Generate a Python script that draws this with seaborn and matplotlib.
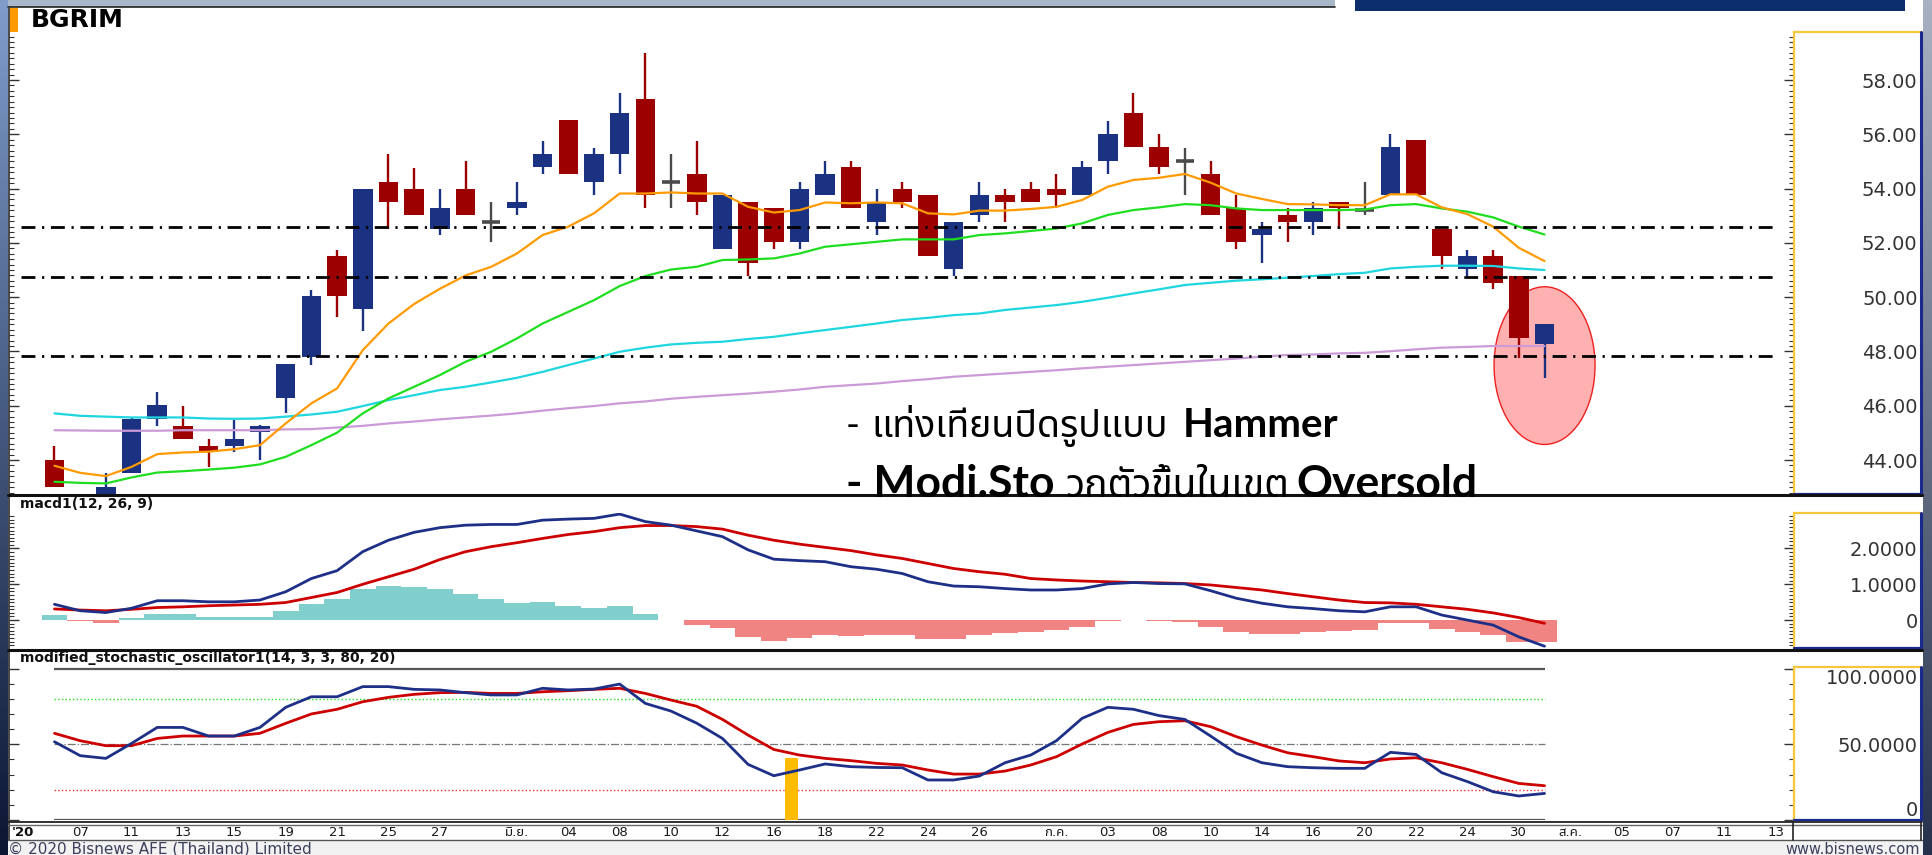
import numpy as np
import matplotlib
matplotlib.use('Agg')
import matplotlib.pyplot as plt
import seaborn as sns
from matplotlib.patches import Rectangle, Ellipse
from matplotlib.lines import Line2D
from matplotlib.ticker import MultipleLocator
from matplotlib.colors import LinearSegmentedColormap
from matplotlib import font_manager
from matplotlib.ft2font import FT2Font

sns.set_style('white')

# ---------------- data (BGRIM daily, 6 May - 31 Jul 2020) ----------------
opens = [44.00, 42.60, 42.50, 43.51, 45.53, 45.27, 44.53, 44.53, 45.02, 46.27,
         47.81, 51.52, 49.55, 54.25, 54.00, 52.53, 54.00, 52.76, 53.27, 54.78,
         56.53, 54.25, 55.27, 57.30, 54.23, 54.54, 51.76, 53.52, 53.27, 52.04,
         53.76, 54.78, 52.78, 54.00, 53.76, 51.03, 53.03, 53.76, 54.00, 54.00,
         53.76, 55.03, 56.77, 55.54, 55.02, 54.54, 53.27, 52.29, 53.03, 52.78,
         53.52, 53.23, 53.76, 55.79, 52.53, 51.03, 51.52, 50.78, 48.26]
highs = [44.51, 42.75, 43.51, 45.55, 46.49, 46.00, 44.76, 45.47, 45.30, 47.55,
         50.26, 51.74, 54.00, 55.26, 54.77, 54.00, 55.02, 53.49, 54.23, 55.75,
         56.53, 55.51, 57.51, 59.01, 55.26, 55.75, 53.76, 53.52, 53.27, 54.23,
         55.02, 55.02, 54.00, 54.23, 53.76, 52.78, 54.23, 54.00, 54.23, 54.54,
         55.02, 56.50, 57.51, 56.00, 55.51, 55.02, 53.76, 52.78, 53.27, 53.52,
         53.52, 54.23, 56.00, 55.79, 52.53, 51.74, 51.74, 50.78, 49.03]
lows = [43.02, 42.00, 42.30, 43.51, 45.27, 44.77, 43.75, 44.28, 44.00, 45.75,
        47.52, 49.28, 48.76, 52.53, 53.03, 52.29, 53.03, 52.04, 53.03, 54.54,
        54.54, 53.76, 54.54, 53.27, 53.27, 53.03, 51.76, 50.78, 51.76, 51.76,
        53.76, 53.27, 52.29, 53.27, 51.52, 50.78, 52.78, 52.78, 53.52, 53.27,
        53.76, 54.54, 55.54, 54.54, 53.76, 53.03, 51.76, 51.27, 52.04, 52.29,
        52.53, 53.03, 53.76, 53.76, 51.03, 50.78, 50.29, 47.77, 47.03]
closes = [43.02, 42.20, 43.02, 45.53, 46.03, 44.77, 44.28, 44.77, 45.27, 47.54,
          50.04, 50.04, 54.00, 53.52, 53.03, 53.27, 53.03, 52.76, 53.52, 55.27,
          54.54, 55.27, 56.77, 53.76, 54.23, 53.52, 53.76, 51.27, 52.04, 54.00,
          54.54, 53.27, 53.52, 53.52, 51.52, 52.78, 53.76, 53.52, 53.52, 53.76,
          54.78, 56.03, 55.54, 54.78, 55.02, 53.03, 52.04, 52.53, 52.78, 53.27,
          53.27, 53.23, 55.54, 53.76, 51.52, 51.52, 50.53, 48.51, 49.03]

ma_fast = [43.79, 43.53, 43.41, 43.75, 44.22, 44.28, 44.31, 44.40, 44.55, 45.35,
           46.09, 46.64, 48.05, 49.03, 49.75, 50.31, 50.80, 51.12, 51.61, 52.29,
           52.60, 53.09, 53.82, 53.82, 53.86, 53.82, 53.82, 53.33, 53.12, 53.21,
           53.49, 53.46, 53.49, 53.46, 53.09, 53.05, 53.19, 53.19, 53.25, 53.33,
           53.58, 54.07, 54.32, 54.40, 54.54, 54.22, 53.82, 53.62, 53.43, 53.42,
           53.39, 53.39, 53.79, 53.79, 53.31, 53.06, 52.60, 51.82, 51.33]
ma_mid = [43.20, 43.16, 43.14, 43.36, 43.54, 43.59, 43.65, 43.72, 43.84, 44.12,
          44.55, 45.01, 45.72, 46.27, 46.70, 47.13, 47.62, 47.99, 48.48, 49.03,
          49.46, 49.89, 50.41, 50.78, 51.02, 51.12, 51.37, 51.39, 51.43, 51.61,
          51.86, 51.95, 52.04, 52.13, 52.13, 52.13, 52.29, 52.35, 52.44, 52.53,
          52.72, 53.03, 53.21, 53.31, 53.43, 53.39, 53.27, 53.21, 53.21, 53.21,
          53.21, 53.23, 53.39, 53.43, 53.27, 53.15, 52.94, 52.60, 52.31]
ma_slow = [45.72, 45.63, 45.60, 45.57, 45.57, 45.57, 45.53, 45.52, 45.53, 45.60,
           45.68, 45.78, 45.99, 46.21, 46.39, 46.58, 46.70, 46.86, 47.03, 47.25,
           47.50, 47.74, 47.99, 48.14, 48.26, 48.32, 48.36, 48.46, 48.54, 48.67,
           48.79, 48.91, 49.03, 49.16, 49.24, 49.34, 49.40, 49.53, 49.62, 49.71,
           49.83, 49.98, 50.14, 50.29, 50.45, 50.53, 50.61, 50.66, 50.72, 50.78,
           50.85, 50.90, 51.06, 51.12, 51.16, 51.16, 51.15, 51.06, 51.00]
ma_long = [45.10, 45.09, 45.08, 45.08, 45.08, 45.10, 45.10, 45.10, 45.10, 45.13,
           45.14, 45.20, 45.26, 45.35, 45.42, 45.50, 45.57, 45.64, 45.72, 45.82,
           45.91, 45.99, 46.09, 46.16, 46.26, 46.33, 46.39, 46.45, 46.52, 46.60,
           46.70, 46.76, 46.82, 46.91, 46.98, 47.07, 47.13, 47.19, 47.25, 47.31,
           47.38, 47.44, 47.50, 47.56, 47.62, 47.68, 47.74, 47.81, 47.87, 47.89,
           47.93, 47.95, 48.01, 48.08, 48.14, 48.17, 48.20, 48.20, 48.20]

support_levels = [52.58, 50.74, 47.83]
hammer_mark = 47.48   # centre of the highlight ellipse

macd_line = [0.44, 0.26, 0.21, 0.33, 0.54, 0.54, 0.51, 0.51, 0.56, 0.79,
             1.16, 1.38, 1.91, 2.23, 2.45, 2.58, 2.65, 2.67, 2.67, 2.79,
             2.82, 2.84, 2.96, 2.75, 2.65, 2.49, 2.33, 1.96, 1.70, 1.66,
             1.63, 1.49, 1.42, 1.30, 1.07, 0.95, 0.93, 0.88, 0.84, 0.84,
             0.88, 1.01, 1.05, 1.02, 1.01, 0.82, 0.61, 0.47, 0.37, 0.32,
             0.26, 0.23, 0.37, 0.37, 0.14, 0.00, -0.14, -0.47, -0.73]
macd_signal = [0.31, 0.28, 0.26, 0.30, 0.35, 0.37, 0.40, 0.42, 0.44, 0.49,
               0.63, 0.77, 1.00, 1.21, 1.42, 1.69, 1.91, 2.05, 2.16, 2.28,
               2.39, 2.47, 2.58, 2.64, 2.64, 2.61, 2.54, 2.37, 2.23, 2.12,
               2.03, 1.94, 1.82, 1.72, 1.58, 1.44, 1.35, 1.28, 1.16, 1.12,
               1.09, 1.07, 1.05, 1.04, 1.02, 0.98, 0.91, 0.84, 0.74, 0.65,
               0.56, 0.49, 0.48, 0.44, 0.37, 0.30, 0.20, 0.07, -0.09]
macd_hist = [0.14, -0.02, -0.07, 0.06, 0.17, 0.17, 0.08, 0.08, 0.08, 0.25,
             0.46, 0.60, 0.87, 0.96, 0.93, 0.87, 0.73, 0.59, 0.48, 0.51,
             0.40, 0.35, 0.38, 0.16, 0.00, -0.15, -0.21, -0.47, -0.58, -0.49,
             -0.42, -0.44, -0.42, -0.42, -0.52, -0.52, -0.42, -0.37, -0.34, -0.28,
             -0.19, -0.03, 0.00, -0.02, -0.05, -0.19, -0.34, -0.39, -0.39, -0.34,
             -0.30, -0.28, -0.09, -0.09, -0.25, -0.33, -0.42, -0.62, -0.62]

sto_k = [51.7, 42.5, 40.7, 50.6, 61.2, 61.2, 55.5, 55.5, 61.2, 74.5,
         81.5, 81.5, 88.2, 88.2, 86.4, 86.0, 84.2, 82.7, 82.7, 87.1,
         86.0, 86.6, 89.9, 77.1, 72.0, 64.0, 53.9, 36.7, 29.2, 33.0,
         37.0, 35.2, 34.7, 34.5, 26.4, 26.4, 29.0, 37.8, 42.9, 52.4,
         67.2, 74.5, 73.2, 69.0, 66.5, 55.5, 44.1, 37.8, 35.2, 34.5,
         34.1, 34.1, 44.7, 43.3, 31.2, 25.3, 18.6, 15.8, 17.5]
sto_d = [57.3, 52.4, 49.1, 49.1, 53.9, 55.5, 55.5, 55.5, 57.3, 63.9,
         70.1, 73.2, 78.2, 81.1, 83.1, 84.2, 84.4, 83.7, 83.7, 84.8,
         85.5, 86.4, 87.1, 83.7, 79.3, 75.2, 66.5, 56.1, 46.6, 42.9,
         40.7, 39.2, 37.4, 36.3, 33.0, 30.3, 30.3, 32.3, 36.3, 41.8,
         50.2, 57.9, 63.2, 65.0, 65.6, 61.7, 55.1, 49.5, 44.4, 41.8,
         39.0, 37.8, 40.3, 41.1, 37.8, 33.4, 28.6, 24.1, 22.6]
sto_levels = [80, 50, 20]
signal_bar_x = 28.69
signal_bar_top = 41.0

tick_pos = [1, 3, 5, 7, 9, 11, 13, 15, 18, 20, 22, 24, 26, 28, 30, 32, 34, 36,
            39, 41, 43, 45, 47, 49, 51, 53, 55, 57, 59, 61, 63, 65, 67]
tick_labels = ['07', '11', '13', '15', '19', '21', '25', '27', 'มิ.ย.', '04', '08', '10',
               '12', '16', '18', '22', '24', '26', 'ก.ค.', '03', '08', '10', '14', '16',
               '20', '22', '24', '30', 'ส.ค.', '05', '07', '11', '13']
year_label = "'20"

note_line1 = ['-', 'แท่งเทียนปิดรูปแบบ', 'Hammer']
note_line2 = ['- Modi.Sto', 'วกตัวขึ้นในเขต', 'Oversold']


# ---------------- fonts: find something that has Thai glyphs ----------------
def find_thai_family():
    found = []
    for f in font_manager.fontManager.ttflist:
        try:
            if 0x0E41 in FT2Font(f.fname).get_charmap():
                found.append(f.name)
        except Exception:
            pass
    for name in ['Noto Sans Thai', 'Noto Sans Thai UI', 'Noto Sans Thai Looped',
                 'Loma', 'Garuda', 'Sarabun', 'Tlwg Typo', 'Noto Serif Thai']:
        if name in found:
            return name
    return found[0] if found else 'DejaVu Sans'


THAI = find_thai_family()
plt.rcParams['font.family'] = ['DejaVu Sans', THAI]

# ---------------- figure / layout in pixels ----------------
W, H = 1933, 855
fig = plt.figure(figsize=(W / 100, H / 100), dpi=100, facecolor='#17254a')


def fx(x):
    return x / W


def fy(y):
    return 1 - y / H


def fill(x0, y0, x1, y1, color, z=-5):
    fig.add_artist(Rectangle((fx(x0), fy(y1)), fx(x1) - fx(x0), fy(y0) - fy(y1),
                             facecolor=color, edgecolor='none', zorder=z))


def seg(x0, y0, x1, y1, color, lw=1.2, z=5):
    fig.add_artist(Line2D([fx(x0), fx(x1)], [fy(y0), fy(y1)], color=color, lw=lw, zorder=z))


def strip(x0, x1, top, bottom):
    g = fig.add_axes([fx(x0), 0, fx(x1) - fx(x0), 1], zorder=-4)
    g.imshow(np.linspace(0, 1, 256).reshape(-1, 1), aspect='auto', extent=(0, 1, 0, 1),
             cmap=LinearSegmentedColormap.from_list('s', [top, bottom]))
    g.axis('off')


def panel(x0, y0, x1, y1):
    return fig.add_axes([fx(x0), fy(y1), fx(x1) - fx(x0), fy(y0) - fy(y1)])


# window background
strip(0, 8, '#7f9ccb', '#0b1632')
strip(1923, W, '#a8b2c2', '#26324d')
fill(8, 0, 1923, 840, 'white')
fill(8, 840, 1923, H, '#f2f2f2')
fill(8, 0, 1335, 7, '#a9b7cb')
seg(8, 7, 1335, 7, '#222222', 1.2)
fill(1355, 0, 1905, 10.7, '#0b2d6c', z=-3)

XL = (-1.77, 67.71)
ax_p = panel(9, 32, 1794, 494)
ax_m = panel(9, 513, 1794, 648)
ax_s = panel(9, 667, 1794, 820)

idx = np.arange(len(closes))
o, h, l, c = map(np.array, (opens, highs, lows, closes))
n = len(idx)

# ---------------- price panel ----------------
up_col, dn_col, doji_col = '#1b3182', '#9c0000', '#4a4a4a'
cols = np.where(c > o, up_col, np.where(c < o, dn_col, doji_col))
ax_p.add_patch(Ellipse((idx[-1], hammer_mark), 3.93, 5.81, facecolor='#ffb0b0',
                       edgecolor='#ee2020', lw=1.0, zorder=1))
ax_p.vlines(idx, l, h, colors=cols, lw=1.7, zorder=2)
body = c != o
ax_p.bar(idx[body], np.abs(c - o)[body], bottom=np.minimum(o, c)[body], width=0.76,
         color=cols[body], linewidth=0, zorder=2.5)
ax_p.hlines(c[~body], idx[~body] - 0.36, idx[~body] + 0.36, colors=doji_col, lw=2.6, zorder=2.5)

for series, col in [(ma_long, '#cc9ad6'), (ma_slow, '#1fd6e0'),
                    (ma_mid, '#1fde1f'), (ma_fast, '#ff9a00')]:
    sns.lineplot(x=idx, y=series, ax=ax_p, color=col, lw=1.6, zorder=3, legend=False)

ax_p.hlines(support_levels, -1.3, 67.0, colors='black', lw=2.0,
            linestyles=[(0, (5, 2.4, 0.8, 2.4))], zorder=4)
ax_p.set_ylim(42.75, 59.77)
ax_p.set_yticks(np.arange(44, 59, 2), labels=[f'{v:.2f}' for v in np.arange(44, 59, 2)])
ax_p.yaxis.set_minor_locator(MultipleLocator(0.2))

# ---------------- MACD panel ----------------
hist = np.array(macd_hist)
ax_m.bar(idx, hist, width=1.0, color=np.where(hist >= 0, '#80cfcc', '#f08482'),
         linewidth=0, zorder=1)
sns.lineplot(x=idx, y=macd_signal, ax=ax_m, color='#cc0000', lw=2.0, zorder=3, legend=False)
sns.lineplot(x=idx, y=macd_line, ax=ax_m, color='#1d2f86', lw=2.0, zorder=3, legend=False)
ax_m.set_ylim(-0.78, 2.99)
ax_m.set_yticks([0, 1, 2], labels=['0', '1.0000', '2.0000'])
ax_m.yaxis.set_minor_locator(MultipleLocator(0.1))

# ---------------- stochastic panel ----------------
ax_s.hlines([100, 0], 0, n - 1, colors='#555555', lw=1.6, zorder=1)
ax_s.hlines(sto_levels[0], 0, n - 1, colors='#22dd22', lw=1.0, linestyles=':', zorder=1)
ax_s.hlines(sto_levels[1], 0, n - 1, colors='#777777', lw=0.9, linestyles='-.', zorder=1)
ax_s.hlines(sto_levels[2], 0, n - 1, colors='#ee3030', lw=1.0, linestyles=':', zorder=1)
ax_s.bar([signal_bar_x], [signal_bar_top], width=0.52, color='#ffbb00', linewidth=0, zorder=2)
sns.lineplot(x=idx, y=sto_d, ax=ax_s, color='#cc0000', lw=2.0, zorder=3, legend=False)
sns.lineplot(x=idx, y=sto_k, ax=ax_s, color='#1d2f86', lw=2.0, zorder=3, legend=False)
ax_s.set_ylim(-0.1, 101.2)
ax_s.set_yticks([0, 50, 100], labels=['0', '50.0000', '100.0000'])
ax_s.yaxis.set_minor_locator(MultipleLocator(10))

# ---------------- common axis styling ----------------
for ax in (ax_p, ax_m, ax_s):
    ax.set_xlim(*XL)
    ax.set_facecolor('none')
    ax.set_xlabel('')
    ax.set_ylabel('')
    for side in ('top', 'bottom', 'left'):
        ax.spines[side].set_visible(False)
    ax.spines['right'].set_color('#f6c73c')
    ax.spines['right'].set_linewidth(1.6)
    ax.tick_params(axis='y', which='both', left=True, right=True, direction='in',
                   labelleft=False, labelright=True, color='#333333',
                   labelcolor='#333333', labelsize=14, pad=89)
    ax.tick_params(axis='y', which='major', length=7, width=1.0)
    ax.tick_params(axis='y', which='minor', length=3.5, width=0.8)
    plt.setp(ax.get_yticklabels(), ha='right')
    ax.grid(False)

for ax in (ax_p, ax_m):
    ax.tick_params(axis='x', bottom=False, labelbottom=False)

ax_s.set_xticks(tick_pos, labels=tick_labels)
ax_s.tick_params(axis='x', direction='out', length=3, width=1, color='#333333',
                 labelsize=9.5, labelcolor='#1a1a1a', pad=1)
labels_s = ax_s.get_yticklabels()
labels_s[0].set_va('bottom')
labels_s[2].set_va('top')

# ---------------- frames ----------------
for top, bot in [(32, 494), (513, 648), (667, 820)]:
    seg(1794, top, 1921, top, '#f6c73c', 1.6)
    seg(1921, top, 1921, bot, '#1a2a8c', 2.2)
    seg(1794, bot, 1921, bot, '#1a2a8c', 1.6)
seg(9, 7, 9, 840, '#3a3a3a', 1.3)
seg(8, 495.5, 1922, 495.5, '#111111', 2.2)
seg(8, 650, 1922, 650, '#111111', 2.2)
seg(8, 822, 1922, 822, '#222222', 1.3)
seg(8, 825, 1922, 825, '#666666', 1.0)
seg(8, 840, 1922, 840, '#555555', 1.0)
seg(1793, 822, 1793, 840, '#222222', 1.2)
seg(1921, 822, 1921, 840, '#222222', 1.2)

# ---------------- texts ----------------
fill(10, 8, 18, 32, '#ff9900', z=6)
fig.text(fx(31), fy(20), 'BGRIM', fontsize=18, fontweight='heavy', va='center', color='black')
fig.text(fx(20), fy(504), 'macd1(12, 26, 9)', fontsize=10, fontweight='bold', va='center',
         color='#111111')
fig.text(fx(20), fy(658), 'modified_stochastic_oscillator1(14, 3, 3, 80, 20)', fontsize=10,
         fontweight='bold', va='center', color='#111111')
fig.text(fx(12), fy(832), year_label, fontsize=9.5, fontweight='bold', va='center', color='#111111')
fig.text(fx(8), fy(849), '© 2020 Bisnews AFE (Thailand) Limited', fontsize=11, va='center',
         color='#3b3f5c')
fig.text(fx(1920), fy(849), 'www.bisnews.com', fontsize=10.5, va='center', ha='right',
         color='#3b3f5c')

renderer = fig.canvas.get_renderer()


def text_run(x_px, base_px, parts):
    x = x_px
    for s, size, weight, gap in parts:
        t = fig.text(fx(x), fy(base_px), s, fontsize=size, fontweight=weight,
                     family=['Lato', THAI, 'DejaVu Sans'], va='baseline', ha='left',
                     color='black', zorder=7)
        x += t.get_window_extent(renderer).width + gap


text_run(846, 437, [(note_line1[0], 27, 'normal', 11), (note_line1[1], 27, 'normal', 15),
                    (note_line1[2], 29, 'bold', 0)])
text_run(846, 497, [(note_line2[0], 32, 'bold', 11), (note_line2[1], 28, 'normal', 7),
                    (note_line2[2], 32, 'bold', 0)])

fig.savefig('out.png', dpi=100, facecolor=fig.get_facecolor())
